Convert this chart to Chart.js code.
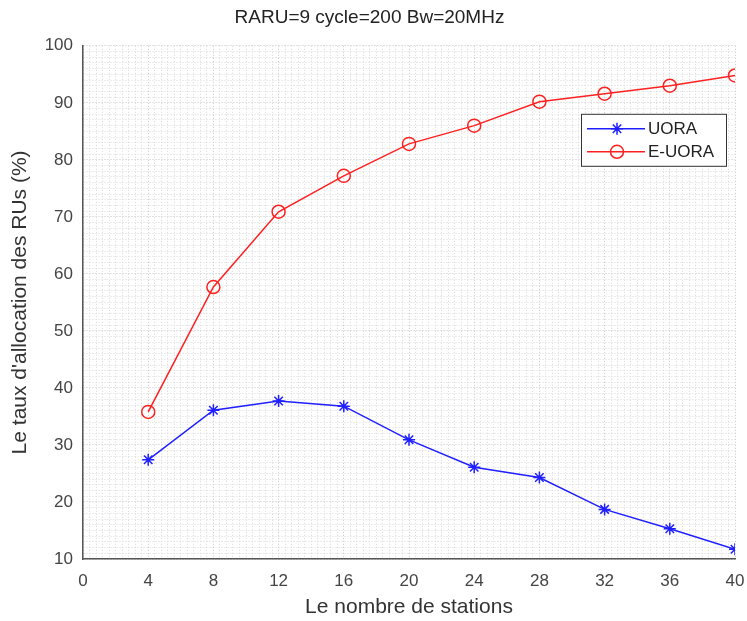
<!DOCTYPE html>
<html>
<head>
<meta charset="utf-8">
<script src="https://cdn.jsdelivr.net/npm/chart.js@4.4.1/dist/chart.umd.min.js"></script>
<style>
  html, body { margin: 0; padding: 0; background: #fff; }
  #wrap { width: 747px; height: 621px; }
</style>
</head>
<body>
<div id="wrap"><canvas id="lineChart"></canvas></div>
<script>
'use strict'

const stations = [4, 8, 12, 16, 20, 24, 28, 32, 36, 40];
const uora = [27.4, 36.1, 37.7, 36.8, 30.9, 26.1, 24.3, 18.7, 15.3, 11.7];
const eUora = [35.8, 57.7, 70.9, 77.2, 82.8, 86.0, 90.2, 91.6, 93.0, 94.8];

const FONT = "'Liberation Sans', Arial, Helvetica, sans-serif";

function isMajor(v, step) {
  return Math.abs(v / step - Math.round(v / step)) < 1e-6;
}

// legend drawn inside the plot, MATLAB style
const insideLegend = {
  id: 'insideLegend',
  afterDraw(chart) {
    const c = chart.ctx;
    const area = chart.chartArea;
    const w = 145, h = 52;
    const x = area.right - 9 - w;
    const y = area.top + 68;
    c.save();
    c.fillStyle = '#fff';
    c.fillRect(x, y, w, h);
    c.strokeStyle = '#333';
    c.lineWidth = 1;
    c.strokeRect(x + 0.5, y + 0.5, w, h);
    chart.data.datasets.forEach((ds, i) => {
      const ly = y + 15 + i * 23;
      c.strokeStyle = ds.borderColor;
      c.lineWidth = 1.5;
      c.beginPath();
      c.moveTo(x + 6, ly);
      c.lineTo(x + 64, ly);
      c.stroke();
      c.fillStyle = ds.pointBackgroundColor;
      c.strokeStyle = ds.pointBorderColor;
      c.lineWidth = ds.pointBorderWidth;
      Chart.helpers.drawPoint(c, {
        pointStyle: ds.pointStyle,
        radius: ds.pointRadius,
        borderWidth: ds.pointBorderWidth
      }, x + 36, ly);
      c.fillStyle = '#222';
      c.font = '17px ' + FONT;
      c.textBaseline = 'middle';
      c.fillText(ds.label, x + 67, ly + 1);
    });
    c.restore();
  }
};

new Chart(document.getElementById('lineChart'), {
  type: 'line',
  data: {
    datasets: [{
      label: 'UORA',
      data: stations.map((s, i) => ({ x: s, y: uora[i] })),
      borderColor: '#1f1fff',
      backgroundColor: '#1f1fff',
      borderWidth: 1.5,
      pointStyle: 'star',
      pointRadius: 6,
      pointBorderWidth: 1.5,
      pointBackgroundColor: '#1f1fff',
      pointBorderColor: '#1f1fff'
    }, {
      label: 'E-UORA',
      data: stations.map((s, i) => ({ x: s, y: eUora[i] })),
      borderColor: '#ff2020',
      backgroundColor: 'rgba(0,0,0,0)',
      borderWidth: 1.5,
      pointStyle: 'circle',
      pointRadius: 6.5,
      pointBorderWidth: 1.5,
      pointBackgroundColor: 'rgba(0,0,0,0)',
      pointBorderColor: '#ff2020'
    }]
  },
  options: {
    responsive: true,
    maintainAspectRatio: false,
    animation: false,
    layout: { padding: { top: 6, right: 12, left: 4, bottom: 1 } },
    plugins: {
      legend: { display: false },
      tooltip: { enabled: false },
      title: {
        display: true,
        text: 'RARU=9 cycle=200 Bw=20MHz',
        color: '#222',
        font: { family: FONT, size: 19, weight: 'normal' },
        padding: { top: 0, bottom: 17 }
      }
    },
    scales: {
      x: {
        type: 'linear',
        min: 0,
        max: 40,
        afterFit(scale) {
          scale.height = 61;
          scale.paddingLeft = 0;
          scale.paddingRight = 0;
        },
        ticks: {
          stepSize: 0.4,
          autoSkip: false,
          maxRotation: 0,
          color: '#444',
          font: { family: FONT, size: 17 },
          padding: 12,
          callback: v => isMajor(v, 4) ? String(Math.round(v)) : ''
        },
        grid: {
          drawTicks: false,
          color: ctx => isMajor(ctx.tick.value, 4) ? '#c4c4c4' : '#d8d8d8',
          lineWidth: 1
        },
        border: { display: true, color: '#555', width: 1.5, dash: [1, 2] },
        title: {
          display: true,
          text: 'Le nombre de stations',
          color: '#333',
          font: { family: FONT, size: 21 },
          padding: { top: 4, bottom: 0 }
        }
      },
      y: {
        min: 10,
        max: 100,
        afterFit(scale) {
          scale.width = 79;
          scale.paddingTop = 0;
          scale.paddingBottom = 0;
        },
        ticks: {
          stepSize: 1,
          autoSkip: false,
          color: '#444',
          font: { family: FONT, size: 17 },
          padding: 10,
          callback: v => isMajor(v, 10) ? String(Math.round(v)) : ''
        },
        grid: {
          drawTicks: false,
          color: ctx => isMajor(ctx.tick.value, 10) ? '#c4c4c4' : '#d8d8d8',
          lineWidth: 1
        },
        border: { display: true, color: '#555', width: 1.5, dash: [1, 2] },
        title: {
          display: true,
          text: "Le taux d'allocation des RUs (%)",
          color: '#333',
          font: { family: FONT, size: 21 },
          padding: { top: 4, bottom: 5 }
        }
      }
    }
  },
  plugins: [insideLegend]
});
</script>
</body>
</html>
